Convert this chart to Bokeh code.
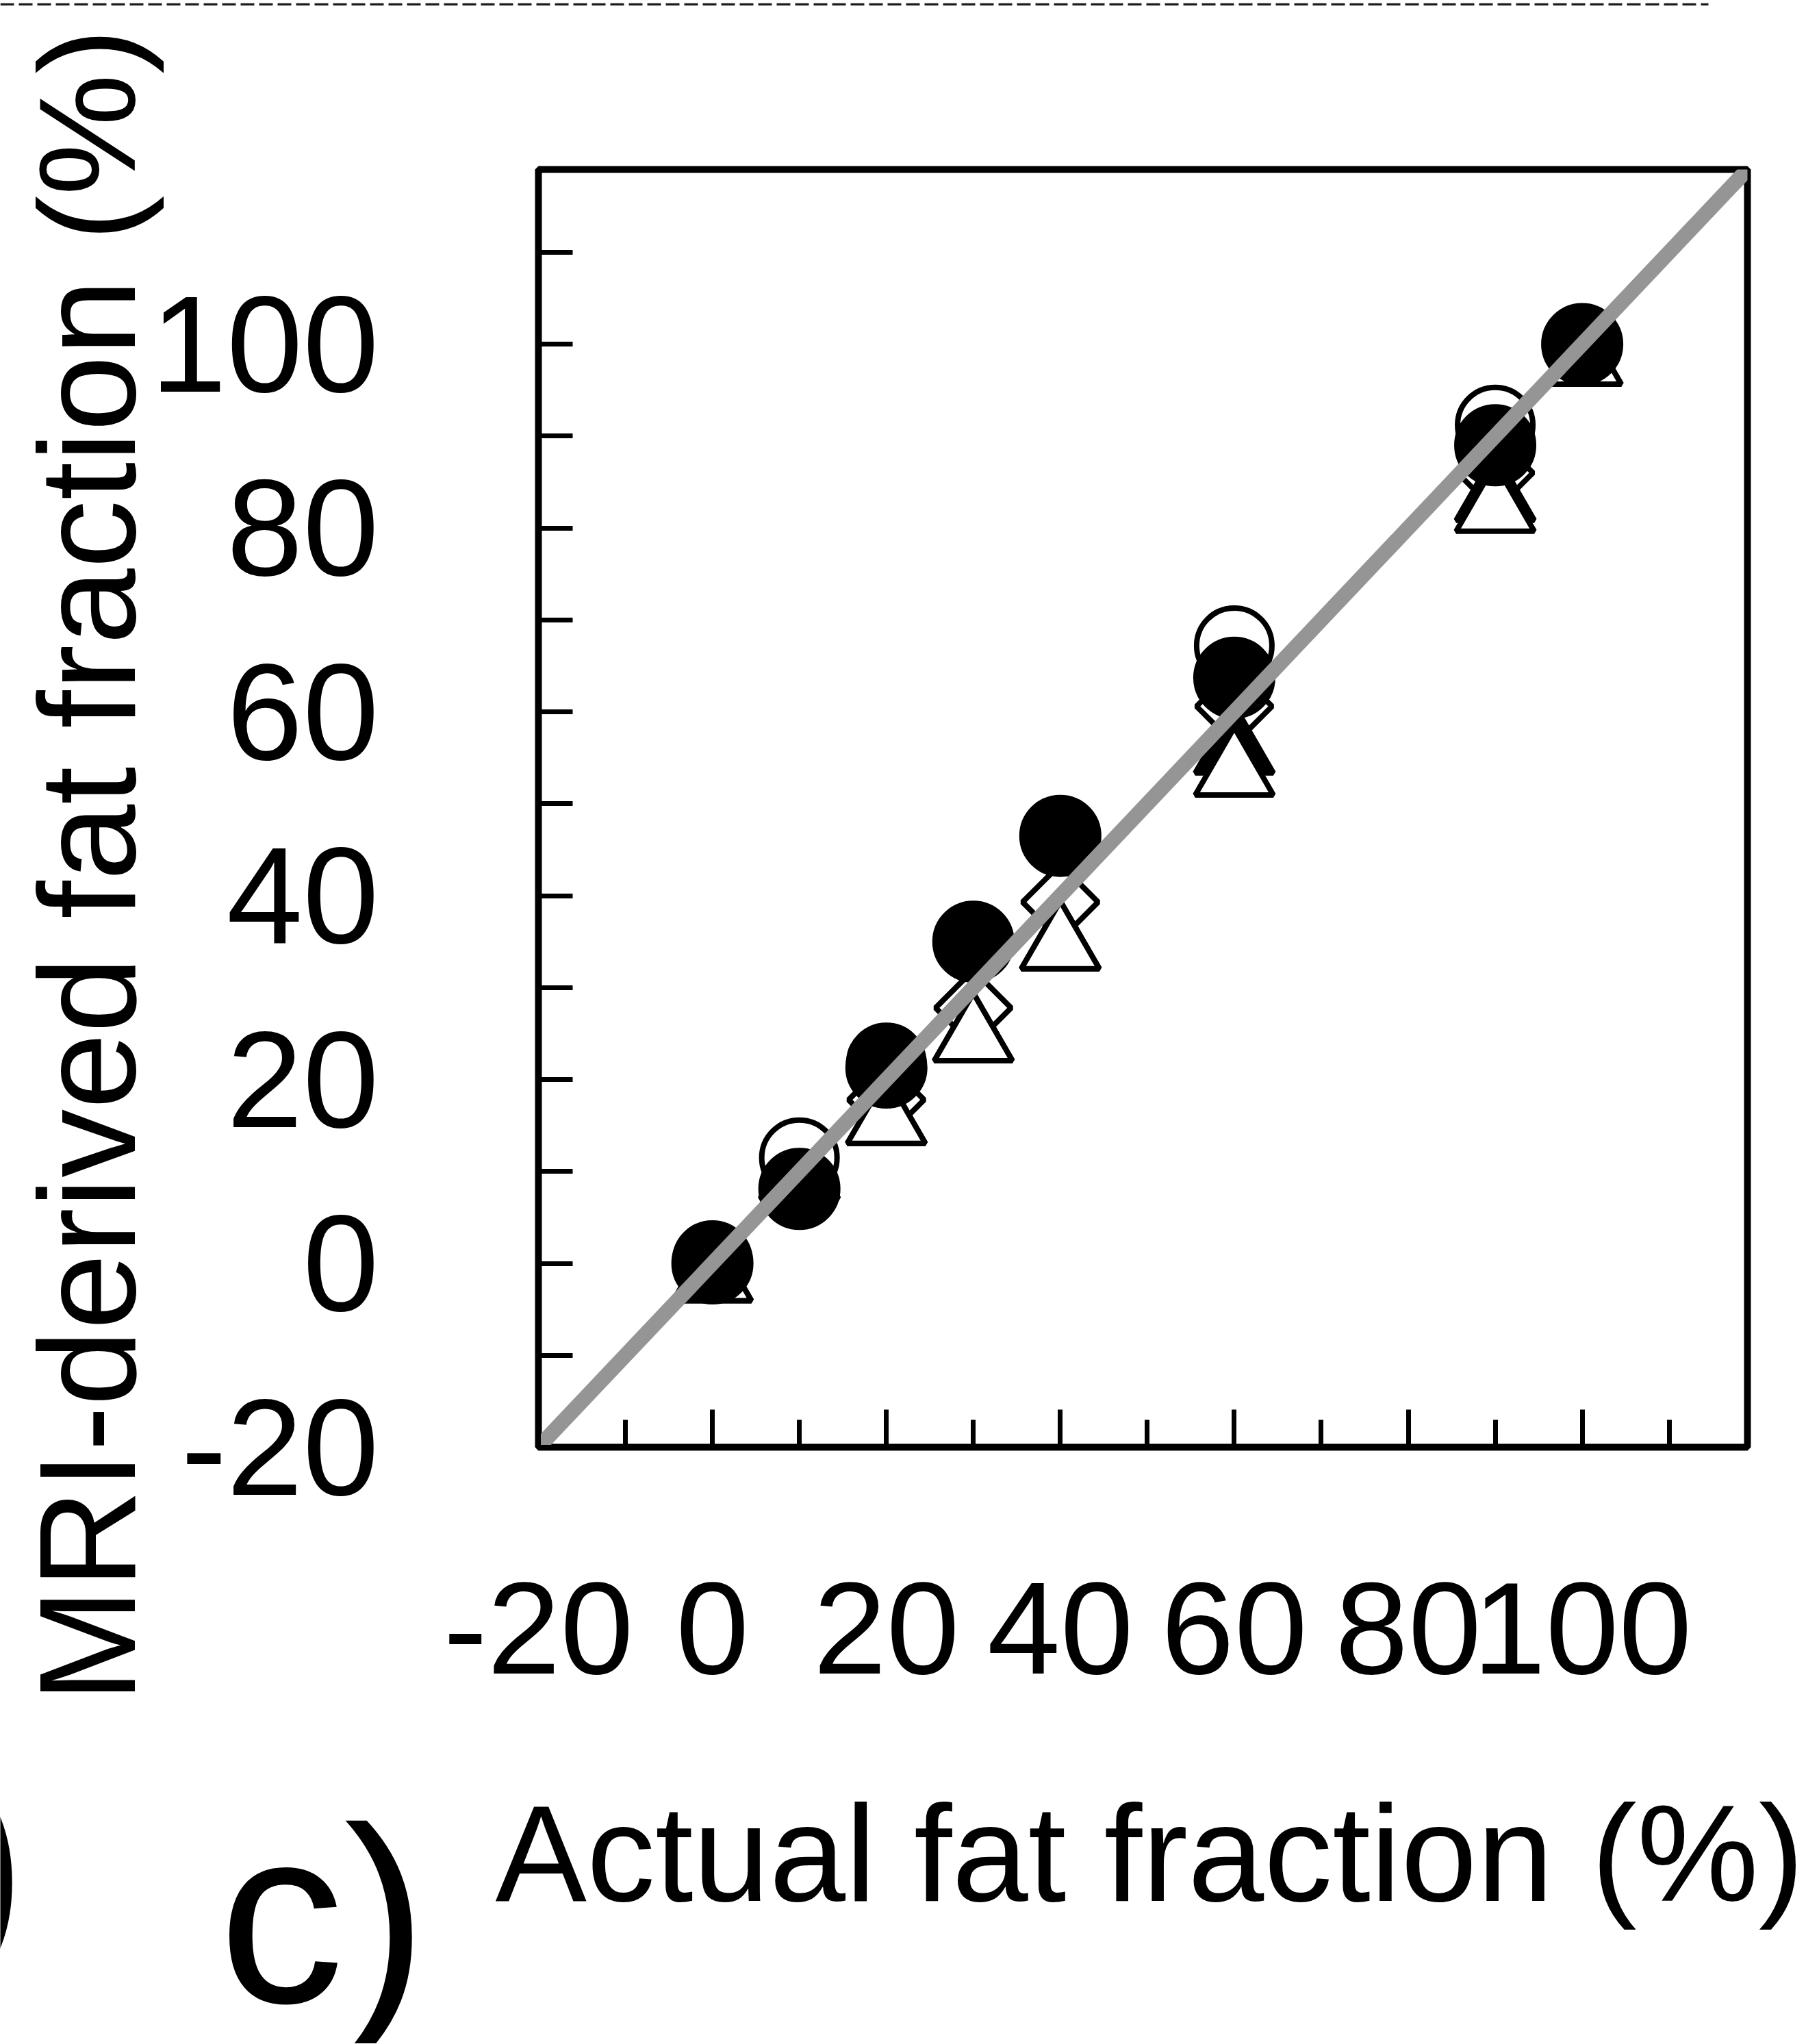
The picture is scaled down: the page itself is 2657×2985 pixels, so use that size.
import math
from bokeh.plotting import figure
from bokeh.models import Range1d, FixedTicker, Label
from bokeh.layouts import column
from bokeh.embed import file_html
from bokeh.resources import INLINE

# ---------------- data ----------------
actual = [0, 10, 20, 30, 40, 60, 90, 100]
mri_filled_circle = [0.0, 8.1, 21.3, 35.0, 46.5, 63.7, 89.0, 100.0]
mri_open_circle = [0.3, 11.5, 21.8, 35.0, 46.5, 67.2, 91.2, 100.0]
mri_open_diamond = [0.0, 8.5, 17.8, 27.8, 39.3, 60.6, 86.0, 100.0]
mri_open_triangle = [-1.6, 9.5, 15.5, 24.5, 34.5, 53.4, 82.1, 98.1]
mri_filled_triangle = [-1.6, 9.5, 15.5, 24.5, 34.5, 55.8, 83.3, 98.1]

identity_x = [-20, 119]
identity_y = [-20, 119]

x_major_ticks = [-20, 0, 20, 40, 60, 80, 100]
x_minor_ticks = [-10, 10, 30, 50, 70, 90, 110]
y_major_ticks = [-20, 0, 20, 40, 60, 80, 100]
y_minor_ticks = [-10, 10, 30, 50, 70, 90, 110]
tick_text_overrides = {-20: "-20"}

x_title = "Actual fat fraction (%)"
y_title = "MRI-derived fat fraction (%)"
panel_tag = "c)"
prev_panel_tail = ")"

# decorative dashed separator at the very top of the page
separator_x = [0, 2495]
separator_y = [5.5, 5.5]

# ---------------- layout ----------------
FONT = "Liberation Sans"
W = 2656
H_TOP, H_MAIN, H_BOT = 8, 2572, 404

def bare_figure(h):
    f = figure(width=W, height=h, x_range=Range1d(0, W), y_range=Range1d(0, h),
               output_backend="svg", toolbar_location=None,
               x_axis_location=None, y_axis_location=None, min_border=0)
    f.frame_align = False
    f.outline_line_color = None
    f.background_fill_color = "white"
    f.border_fill_color = "white"
    f.xgrid.visible = False
    f.ygrid.visible = False
    return f

# top strip with dashed line
top = bare_figure(H_TOP)
top.line(separator_x, separator_y, line_color="#1a1a1a", line_width=5, line_dash="20 7")

# main chart
p = figure(width=W, height=H_MAIN,
           x_range=Range1d(-20, 119), y_range=Range1d(-20, 119),
           output_backend="svg", toolbar_location=None,
           min_border_left=786, min_border_top=239,
           min_border_right=W - 2552, min_border_bottom=H_MAIN + H_TOP - 2113)
p.frame_align = False

p.xgrid.grid_line_color = None
p.ygrid.grid_line_color = None
p.background_fill_color = "white"
p.border_fill_color = "white"
p.outline_line_color = "black"
p.outline_line_width = 10
p.outline_line_alpha = 1.0

for ax in (p.xaxis[0], p.yaxis[0]):
    ax.axis_line_color = None
    ax.major_tick_out = 0
    ax.minor_tick_out = 0
    ax.major_tick_line_color = "black"
    ax.minor_tick_line_color = "black"
    ax.major_tick_line_width = 7
    ax.minor_tick_line_width = 7
    ax.major_label_text_font = FONT
    ax.major_label_text_color = "black"
    ax.major_label_overrides = tick_text_overrides

p.xaxis.ticker = FixedTicker(ticks=x_major_ticks, minor_ticks=x_minor_ticks)
p.xaxis.major_tick_in = 55
p.xaxis.minor_tick_in = 40
p.xaxis.major_label_text_font_size = "192px"
p.xaxis.major_label_standoff = 198

p.yaxis.ticker = FixedTicker(ticks=y_major_ticks, minor_ticks=y_minor_ticks)
p.yaxis.major_tick_in = 50
p.yaxis.minor_tick_in = 50
p.yaxis.major_label_text_font_size = "200px"
p.yaxis.major_label_standoff = 233
# trailing no-break spaces push the title a little below the frame centre
p.yaxis.axis_label = y_title + "\u00a0" * 3
p.yaxis.axis_label_text_font = FONT
p.yaxis.axis_label_text_font_size = "200px"
p.yaxis.axis_label_text_font_style = "normal"
p.yaxis.axis_label_text_color = "black"
p.yaxis.axis_label_standoff = -22

# markers (drawn bottom to top)
p.scatter(actual, mri_open_diamond, marker="square", angle=math.pi / 4, size=78,
          fill_color="white", line_color="black", line_width=8)
p.scatter(actual, mri_filled_triangle, marker="triangle", size=114,
          fill_color="black", line_color="black", line_width=8)
p.scatter(actual, mri_open_triangle, marker="triangle", size=114,
          fill_color="white", line_color="black", line_width=8)
p.scatter(actual, mri_open_circle, marker="circle", size=110,
          fill_color="white", line_color="black", line_width=8)
p.scatter(actual, mri_filled_circle, marker="circle", size=113,
          fill_color="black", line_color="black", line_width=7)

p.line(identity_x, identity_y, line_color="#959595", line_width=22)

# bottom strip with the x title and panel tag
bot = bare_figure(H_BOT)
bot.add_layout(Label(x=723, y=278, text=x_title, text_font=FONT, text_font_size="200px",
                     text_align="left", text_baseline="alphabetic", text_color="black"))
bot.add_layout(Label(x=319, y=187, text=panel_tag, text_font=FONT, text_font_size="366px",
                     text_align="left", text_baseline="alphabetic", text_color="black"))
bot.add_layout(Label(x=-82, y=267, text=prev_panel_tail, text_font=FONT, text_font_size="366px",
                     text_align="left", text_baseline="alphabetic", text_color="black"))

layout = column(top, p, bot, spacing=0)
open("out.html", "w").write(file_html(layout, INLINE))
